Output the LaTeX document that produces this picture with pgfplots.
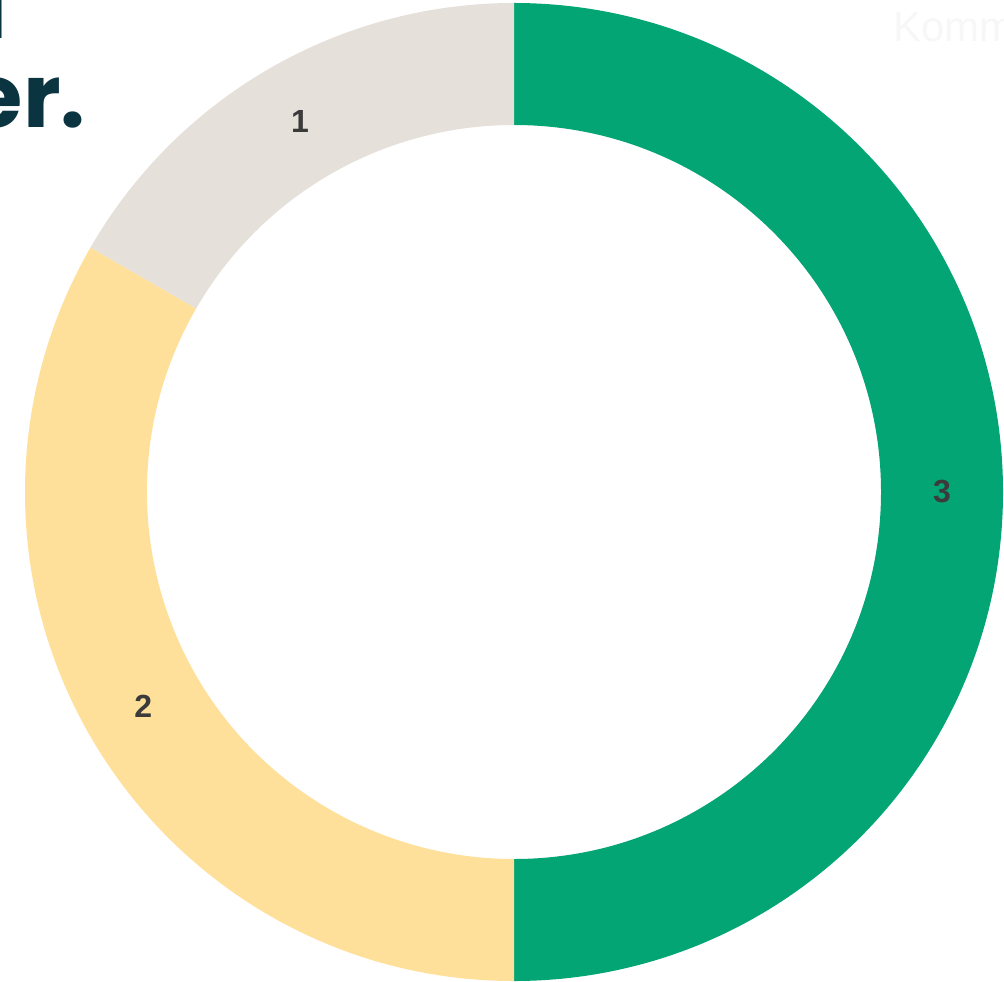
\documentclass[border=0pt]{standalone}
\usepackage{pgfplots}
\usepackage{pgfplotstable}
\usepackage{fontspec}
\pgfplotsset{compat=1.18}
\setmainfont{Liberation Sans}
\newfontfamily\titlefont{Poppins}
\definecolor{cgreen}{HTML}{02A573}
\definecolor{cyellow}{HTML}{FFE09A}
\definecolor{cbeige}{HTML}{E5E0DA}
\definecolor{clabel}{HTML}{3B3B3B}
\definecolor{ctitle}{HTML}{0B3441}
\definecolor{cwater}{HTML}{F7F7F7}
\pgfplotstableread{
name value color
3 3 cgreen
2 2 cyellow
1 1 cbeige
}\donutdata
\begin{document}
\begin{tikzpicture}
\begin{axis}[
  scale only axis, width=502pt, height=490.5pt,
  xmin=0, xmax=1004, ymin=0, ymax=981,
  hide axis, clip=true]
\pgfplotstablegetrowsof{\donutdata}
\pgfmathtruncatemacro\N{\pgfplotsretval-1}
\def\total{0}
\pgfplotsforeachungrouped \i in {0,...,\N}{%
  \pgfplotstablegetelem{\i}{value}\of\donutdata
  \pgfmathsetmacro\total{\total+\pgfplotsretval}%
}
\def\sa{90}
\pgfplotsforeachungrouped \i in {0,...,\N}{%
  \pgfplotstablegetelem{\i}{value}\of\donutdata \let\v\pgfplotsretval
  \pgfplotstablegetelem{\i}{name}\of\donutdata \let\nm\pgfplotsretval
  \pgfplotstablegetelem{\i}{color}\of\donutdata \let\cl\pgfplotsretval
  \pgfmathsetmacro\ea{\sa-360*\v/\total}%
  \pgfmathsetmacro\ma{(\sa+\ea)/2}%
  \pgfmathsetmacro\ba{\ea+180}%
  \edef\temp{%
    \noexpand\fill[\cl] (axis cs:514,489) ++(\sa:244.5pt) arc[start angle=\sa, end angle=\ea, radius=244.5pt] -- ++(\ba:61pt) arc[start angle=\ea, end angle=\sa, radius=183.5pt] -- cycle;
    \noexpand\path (axis cs:514,489) ++(\ma:214pt) node[text=clabel, font=\noexpand\fontsize{16}{16}\noexpand\selectfont\noexpand\bfseries] {\nm};
  }%
  \temp
  \let\sa\ea
}
\node[anchor=base east, text=ctitle, font=\titlefont\fontsize{44}{44}\selectfont\bfseries, inner sep=0pt] at (axis cs:8,942) {Fordeling af svar på skal};
\node[anchor=base east, text=ctitle, font=\titlefont\fontsize{44}{44}\selectfont\bfseries, inner sep=0pt] at (axis cs:86,853) {fordelt på alle besvarelser.};
\node[anchor=base west, text=cwater, font=\fontsize{21}{21}\selectfont, inner sep=0pt] at (axis cs:893,939) {Kommune};
\end{axis}
\pgfresetboundingbox
\path[use as bounding box] (current axis.south west) rectangle (current axis.north east);
\end{tikzpicture}
\end{document}
